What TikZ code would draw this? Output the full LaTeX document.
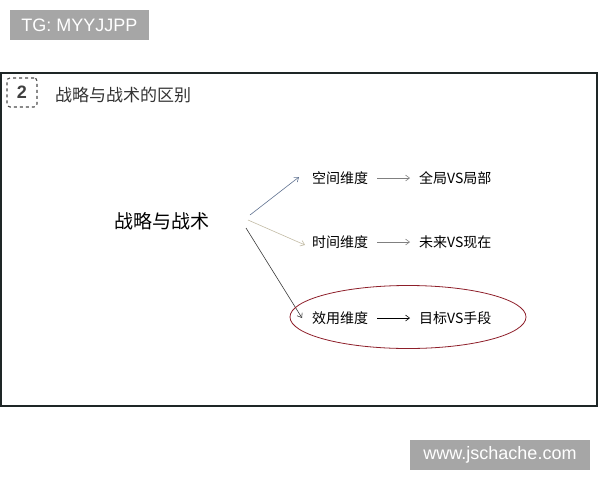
\documentclass[tikz,border=0pt]{standalone}
\usepackage{fontspec}
\setmainfont{Liberation Sans}
\newfontfamily\cjk{Noto Sans CJK SC}
\usetikzlibrary{shapes.geometric, arrows.meta}

\definecolor{tagGray}{HTML}{A6A6A6}
\definecolor{frameDark}{HTML}{1E2626}
\definecolor{arrowBlue}{HTML}{5F7190}
\definecolor{arrowTan}{HTML}{C2BBA4}
\definecolor{arrowDark}{HTML}{3A3A3A}
\definecolor{ringRed}{HTML}{8E1F2A}

\begin{document}
\begin{tikzpicture}[x=1pt, y=-1pt, >={Straight Barb[length=4pt, width=6pt]}]
    \tikzset{tag/.style={fill=tagGray, text=white, font=\fontsize{18}{20}\selectfont, inner sep=0pt},
             dimtext/.style={font=\cjk\fontsize{14}{16}\selectfont, inner sep=1pt}} %% shared looks
    \useasboundingbox (0,0) rectangle (600,480);
    % \draw[very thin,color=gray] (0,0) grid[step=50] (600,480);

    \node[tag, minimum width=139pt, minimum height=30pt] (tg) at (79.5,25) {TG: MYYJJPP};
    \node[tag, minimum width=180pt, minimum height=30pt] (web) at (500,455) {www.jschache.com};

    \draw[frameDark, line width=2.5pt] (1,73) rectangle (597,406);
    \node[draw=black!70, dashed, rounded corners=3pt, line width=1.1pt, minimum width=30pt, minimum height=29pt,
          text=black!75, font=\bfseries\fontsize{18}{20}\selectfont] (num) at (22,92.5) {2};
    \node[anchor=west, text=black!80, font=\cjk\fontsize{17}{19}\selectfont, inner sep=0pt] (title) at (55,95) {战略与战术的区别};

    \node[font=\cjk\fontsize{19}{21}\selectfont] (main) at (162,221) {战略与战术};
    \coordinate (fork) at (248,221);

    \foreach \n/\y/\dim/\res/\col/\sx/\sy/\ex/\ey/\tip in {
            a/178/空间维度/全局VS局部/arrowBlue/2/-6/-12/-1/gray,
            b/242/时间维度/未来VS现在/arrowTan/0/-1/-6/3/gray,
            c/318/效用维度/目标VS手段/arrowDark/-2/7/-9/0/black} {
            \node[dimtext, anchor=west] (dim\n) at (311,\y) {\dim};
            \node[dimtext, anchor=west] (res\n) at (418,\y) {\res};
            \draw[->, \col, line width=0.6pt] ([shift={(\sx,\sy)}]fork) -- ([shift={(\ex,\ey)}]dim\n.west);
            \draw[->, \tip, line width=0.6pt] ([xshift=8pt]dim\n.east) -- ([xshift=-8pt]res\n.west);
        }
    \node[draw=ringRed, thick, ellipse, minimum width=236pt, minimum height=63pt] (focus) at (408,317) {};
\end{tikzpicture}
\end{document}
